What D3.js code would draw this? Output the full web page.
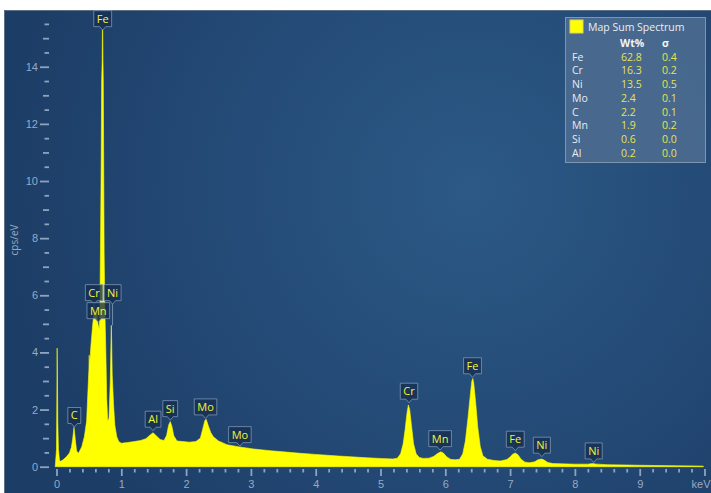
<!DOCTYPE html>
<html><head><meta charset="utf-8">
<script src="https://cdn.jsdelivr.net/npm/d3@7"></script>
<style>
html,body{margin:0;padding:0;background:#fff;}
svg{display:block;font-family:"Open Sans","Noto Sans",sans-serif;}
</style></head>
<body>
<svg id="chart" width="711" height="493"></svg>
<script>
// ---- data ----
const energies = [-0.02,0.0,0.005,0.01,0.015,0.02,0.03,0.045,0.06,0.1,0.15,0.2,0.23,0.25,0.27,0.29,0.31,0.34,0.39,0.43,0.465,0.49,0.50,0.505,0.51,0.53,0.56,0.585,0.60,0.62,0.64,0.66,0.67,0.678,0.69,0.697,0.705,0.709,0.713,0.717,0.722,0.728,0.735,0.745,0.76,0.775,0.79,0.81,0.83,0.84,0.846,0.852,0.86,0.88,0.90,0.93,0.96,1.0,1.1,1.2,1.3,1.38,1.45,1.49,1.54,1.6,1.66,1.70,1.73,1.755,1.78,1.81,1.86,1.95,2.05,2.15,2.22,2.26,2.29,2.31,2.34,2.38,2.42,2.5,2.63,2.8,3.04,3.3,3.5,3.76,4.0,4.3,4.53,4.8,5.0,5.19,5.26,5.31,5.35,5.38,5.41,5.43,5.45,5.48,5.51,5.55,5.6,5.66,5.75,5.82,5.88,5.93,5.97,6.02,6.08,6.15,6.22,6.27,6.31,6.35,6.39,6.41,6.425,6.44,6.47,6.50,6.54,6.58,6.65,6.75,6.85,6.95,7.0,7.04,7.08,7.12,7.17,7.23,7.3,7.38,7.43,7.48,7.52,7.58,7.66,7.8,8.0,8.2,8.27,8.34,8.5,8.8,9.0,9.3,9.6,9.9,9.98,9.985];
const counts   = [0.0,0.6,2.2,4.15,3.0,1.6,0.6,0.25,0.18,0.24,0.34,0.48,0.68,0.98,1.38,0.95,0.55,0.47,0.7,1.05,1.6,2.9,3.4,3.9,3.5,4.2,5.0,5.5,5.3,5.45,5.0,4.8,5.6,7.5,10.7,13.5,14.2,15.3,15.3,14.2,13.5,10.7,7.5,5.6,4.2,2.4,1.6,1.7,3.0,4.3,4.95,4.3,3.2,2.2,1.45,1.05,0.88,0.82,0.85,0.88,0.92,0.98,1.12,1.19,1.08,0.95,0.92,1.1,1.45,1.58,1.42,1.08,0.9,0.88,0.86,0.88,1.0,1.35,1.62,1.66,1.45,1.2,1.05,0.9,0.77,0.7,0.62,0.56,0.52,0.47,0.43,0.38,0.35,0.31,0.29,0.27,0.3,0.45,0.8,1.3,1.9,2.16,2.0,1.4,0.8,0.45,0.32,0.29,0.3,0.36,0.46,0.52,0.48,0.35,0.26,0.24,0.26,0.45,0.9,1.7,2.6,3.0,3.09,2.9,2.2,1.4,0.7,0.38,0.26,0.22,0.2,0.25,0.34,0.44,0.48,0.42,0.26,0.16,0.14,0.17,0.24,0.27,0.24,0.15,0.11,0.1,0.09,0.09,0.11,0.09,0.07,0.06,0.05,0.04,0.03,0.025,0.02,0.0];

const labelNames    = ["Fe","Cr","Mn","Ni","C","Al","Si","Mo","Mo","Cr","Mn","Fe","Fe","Ni","Ni"];
const labelEnergies = [0.713,0.58,0.645,0.865,0.275,1.49,1.755,2.30,2.83,5.44,5.92,6.42,7.08,7.49,8.29];
const labelTips     = [15.28,5.69,5.06,5.69,1.39,1.26,1.63,1.69,0.72,2.24,0.58,3.13,0.56,0.35,0.15];
const labelPeaks    = [15.3,5.5,5.0,4.95,1.38,1.19,1.58,1.66,0.72,2.16,0.52,3.09,0.48,0.27,0.11];

const legendTitle = "Map Sum Spectrum";
const legendElements = ["Fe","Cr","Ni","Mo","C","Mn","Si","Al"];
const legendWt    = ["62.8","16.3","13.5","2.4","2.2","1.9","0.6","0.2"];
const legendSigma = ["0.4","0.2","0.5","0.1","0.1","0.2","0.0","0.0"];

const yMajorTicks = [0,2,4,6,8,10,12,14];
const yMidTicks   = [1,3,5,7,9,11,13,15];
const yMinorTicks = d3.range(0.5,16,1);
const xMajorTicks = [0,1,2,3,4,5,6,7,8,9,10];
const xTickLabels = ["0","1","2","3","4","5","6","7","8","9","keV"];
const xMinorTicks = d3.range(0,10.01,0.2).filter(v => Math.abs(v - Math.round(v)) > 1e-6);
const yAxisTitle = "cps/eV";

// ---- drawing ----
const svg = d3.select("#chart");
const W = 711, H = 493;
const frame = {left:4, top:10};

const defs = svg.append("defs");
const rg = defs.append("radialGradient").attr("id","bg")
  .attr("gradientUnits","userSpaceOnUse")
  .attr("cx",470).attr("cy",190).attr("r",470);
rg.append("stop").attr("offset","0%").attr("stop-color","#2c5986");
rg.append("stop").attr("offset","55%").attr("stop-color","#244a76");
rg.append("stop").attr("offset","100%").attr("stop-color","#1c3d66");

svg.append("rect").attr("x",frame.left).attr("y",frame.top)
  .attr("width",W-frame.left).attr("height",H-frame.top).attr("fill","url(#bg)");
svg.append("path").attr("d",`M${frame.left+0.5},${H} V${frame.top+0.5} H${W}`)
  .attr("fill","none").attr("stroke","#5d6f84").attr("stroke-width",1);

const x = d3.scaleLinear().domain([0,10]).range([56.5,704.5]);
const y = d3.scaleLinear().domain([0,16]).range([466.7,9.6]);

// spectrum
const spec = energies.map((e,i)=>({e, v:counts[i]}));
const area = d3.area().x(d=>x(d.e)).y0(y(0)).y1(d=>y(d.v)).curve(d3.curveLinear);
svg.append("path").datum(spec).attr("d",area).attr("fill","#ffff00")
  .attr("stroke","#ffff00").attr("stroke-width",0.6).attr("stroke-linejoin","round");

const tickColor = "#8ea3be";
const labelColor = "#97aac2";

// y axes
function styleAxis(g){
  g.select(".domain").remove();
  g.selectAll(".tick line").attr("stroke",tickColor).attr("stroke-width",1.8);
  g.selectAll(".tick text").attr("fill",labelColor).style("font-size","11px");
}
svg.append("g").attr("transform","translate(49,0)")
  .call(d3.axisLeft(y).tickValues(yMajorTicks).tickSize(9).tickPadding(2).tickFormat(d3.format("d")))
  .call(styleAxis);
svg.append("g").attr("transform","translate(49,0)")
  .call(d3.axisLeft(y).tickValues(yMidTicks).tickSize(6).tickFormat(""))
  .call(styleAxis);
svg.append("g").attr("transform","translate(49,0)")
  .call(d3.axisLeft(y).tickValues(yMinorTicks).tickSize(4.5).tickFormat(""))
  .call(styleAxis);

// x axes
const xg = svg.append("g").attr("transform","translate(0,469)")
  .call(d3.axisBottom(x).tickValues(xMajorTicks).tickSize(7).tickPadding(4)
    .tickFormat((d,i)=>xTickLabels[i]))
  .call(styleAxis);
// keep the unit label inside the picture
xg.selectAll(".tick text").filter(d=>d===10).attr("text-anchor","end").attr("x",710-x(10));
svg.append("g").attr("transform","translate(0,469)")
  .call(d3.axisBottom(x).tickValues(xMinorTicks).tickSize(3.5).tickFormat(""))
  .call(styleAxis);

// y title
svg.append("text").attr("transform","translate(18,240) rotate(-90)")
  .attr("text-anchor","middle").attr("fill",labelColor).style("font-size","10px")
  .text(yAxisTitle);

// peak labels
const lab = svg.append("g");
labelNames.forEach((name,i)=>{
  const cx = x(labelEnergies[i]);
  const tip = y(labelTips[i]);
  const peak = y(labelPeaks[i]);
  const g = lab.append("g");
  if (peak - tip > 3) {
    g.append("line").attr("x1",cx).attr("x2",cx).attr("y1",tip).attr("y2",peak)
      .attr("stroke","rgba(150,170,195,0.7)").attr("stroke-width",1);
  }
  const t = g.append("text").attr("x",cx).attr("y",tip-7.5)
    .attr("text-anchor","middle").attr("fill","#f4f43a").style("font-size","11px").text(name);
  const tw = t.node().getComputedTextLength();
  const w = tw + 6, h = 16;
  const x0 = cx - w/2, x1 = cx + w/2, y1 = tip - 3.5, y0 = y1 - h;
  g.insert("path","text")
    .attr("d",`M${x0},${y0} H${x1} V${y1} H${cx+3} L${cx},${tip} L${cx-3},${y1} H${x0} Z`)
    .attr("fill","rgba(22,46,78,0.78)").attr("stroke","rgba(130,155,185,0.75)").attr("stroke-width",1);
});

// legend
const lg = svg.append("g");
lg.append("rect").attr("x",565.5).attr("y",17.5).attr("width",140).attr("height",145)
  .attr("fill","#4b6a8f").attr("fill-opacity",0.92).attr("stroke","#7e95b0").attr("stroke-width",1);
lg.append("rect").attr("x",570).attr("y",20).attr("width",13).attr("height",13)
  .attr("fill","#ffff00").attr("stroke","#d8d860");
lg.append("text").attr("x",588).attr("y",30.5).attr("fill","#e8eef6").style("font-size","10.5px").text(legendTitle);
lg.append("text").attr("x",620).attr("y",47).attr("fill","#f0f4f8").style("font-size","10.5px").style("font-weight","bold").text("Wt%");
lg.append("text").attr("x",662).attr("y",47).attr("fill","#f0f4f8").style("font-size","10.5px").style("font-weight","bold").text("σ");
legendElements.forEach((el,i)=>{
  const by = 60.7 + i*13.7;
  lg.append("text").attr("x",572).attr("y",by).attr("fill","#e6ecf4").style("font-size","10.5px").text(el);
  lg.append("text").attr("x",621).attr("y",by).attr("fill","#e4e452").style("font-size","10.5px").text(legendWt[i]);
  lg.append("text").attr("x",662).attr("y",by).attr("fill","#e4e452").style("font-size","10.5px").text(legendSigma[i]);
});
</script>
</body></html>
